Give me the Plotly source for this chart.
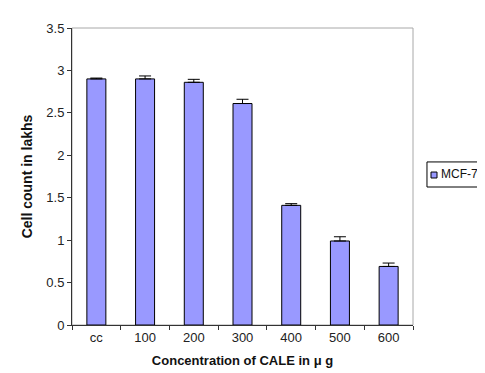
import plotly.graph_objects as go

categories = ["cc", "100", "200", "300", "400", "500", "600"]
cell_count = [2.90, 2.90, 2.86, 2.61, 1.41, 0.99, 0.69]
error_plus = [0.01, 0.035, 0.035, 0.05, 0.02, 0.05, 0.04]
series_name = "MCF-7"
y_ticks = [0, 0.5, 1, 1.5, 2, 2.5, 3, 3.5]
y_ticktext = ["0", "0.5", "1", "1.5", "2", "2.5", "3", "3.5"]

bar_color = "#9999FF"

fig = go.Figure()
fig.add_trace(go.Bar(
    x=categories, y=cell_count, name=series_name,
    marker=dict(color=bar_color, line=dict(color="black", width=1)),
    width=0.39,
    error_y=dict(type="data", array=error_plus, symmetric=False,
                 arrayminus=[0] * len(categories),
                 color="black", thickness=1, width=6),
    showlegend=False,
))

font = "Liberation Sans, Arial, sans-serif"
fig.update_layout(
    width=485, height=373,
    margin=dict(l=64, r=80, t=20, b=56, autoexpand=False),
    paper_bgcolor="white", plot_bgcolor="white",
    font=dict(family=font, size=13, color="#222222"),
    showlegend=False,
    xaxis=dict(type="category", tickson="boundaries", ticks="outside",
               ticklen=4, tickcolor="#333333", showline=True,
               linecolor="#333333", linewidth=1, showgrid=False,
               title=dict(text="<b>Concentration of CALE in μ g</b>",
                          font=dict(size=13, color="#111111"), standoff=12),
               tickfont=dict(size=13)),
    yaxis=dict(range=[0, 3.5], tickvals=y_ticks, ticktext=y_ticktext,
               ticks="outside", ticklen=4, tickcolor="#333333",
               showline=True, linecolor="#333333", linewidth=1,
               showgrid=False, zeroline=False,
               title=dict(text="<b>Cell count in lakhs</b>",
                          font=dict(size=14, color="#111111"), standoff=10),
               tickfont=dict(size=13)),
    shapes=[
        dict(type="rect", xref="paper", yref="paper", x0=0, x1=1,
             y0=0, y1=1, line=dict(color="#a8a8a8", width=1), layer="below"),
        # legend box
        dict(type="rect", xref="paper", yref="paper", x0=1.041, x1=1.26,
             y0=0.4646, y1=0.549, line=dict(color="black", width=1),
             fillcolor="white"),
        # legend swatch
        dict(type="rect", xref="paper", yref="paper", x0=1.0528, x1=1.0704,
             y0=0.495, y1=0.515, line=dict(color="black", width=1),
             fillcolor=bar_color),
    ],
    annotations=[
        dict(text=series_name, xref="paper", yref="paper", x=1.077, y=0.507,
             xanchor="left", yanchor="middle", showarrow=False,
             font=dict(size=12, color="#111111")),
    ],
)

fig.write_html("out.html")
